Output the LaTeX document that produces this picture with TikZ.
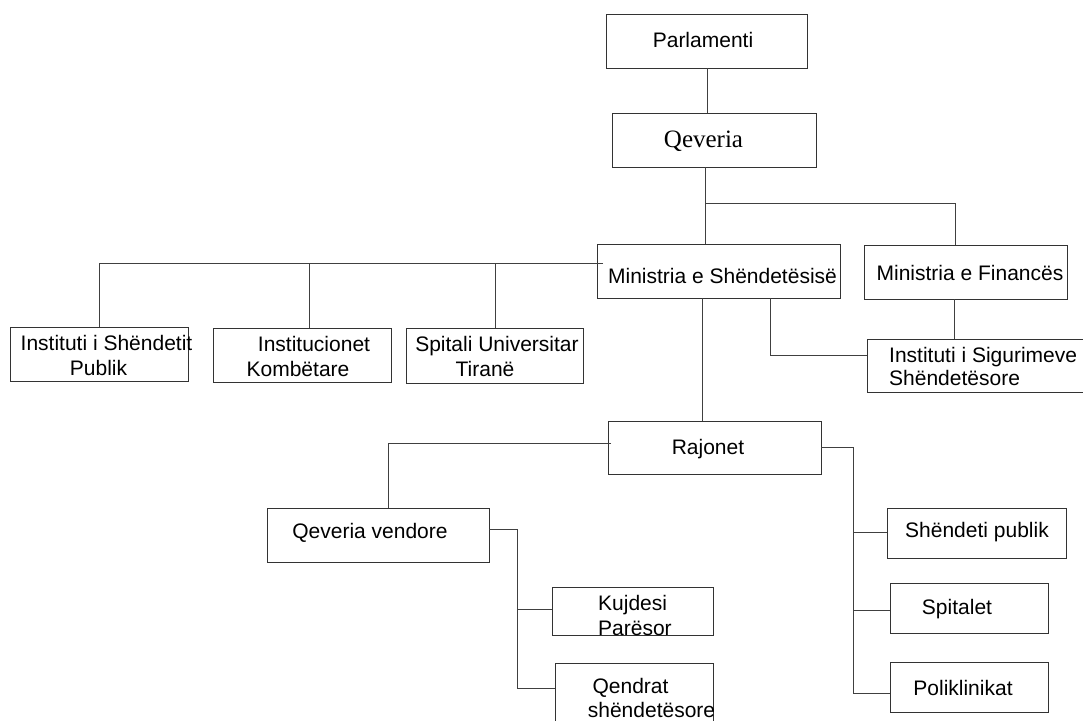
\documentclass[tikz,border=0pt]{standalone}
\usepackage{fontspec}
\setmainfont{Liberation Sans}
\newfontfamily\qserif{Liberation Serif}
\begin{document}
\begin{tikzpicture}[x=1pt,y=-1pt,
  box/.style={draw=black!80, line width=0.9pt, inner sep=0pt, fill=white},
  txt/.style={inner sep=0pt, font=\fontsize{21}{25}\selectfont, align=center},
  conn/.style={draw=black!75, line width=0.9pt}]
\useasboundingbox (0,0) rectangle (1083,720);

% boxes
\node[box, minimum width=201pt, minimum height=54pt] (parl) at (706.5,41) {};
\node[box, minimum width=204pt, minimum height=54pt] (qev) at (714,140) {};
\node[box, minimum width=243pt, minimum height=54pt] (msh) at (718.5,271) {};
\node[box, minimum width=203pt, minimum height=54pt] (mf) at (965.5,272) {};
\node[box, minimum width=223pt, minimum height=53pt] (iss) at (978.5,365.5) {};
\node[box, minimum width=178pt, minimum height=54pt] (ish) at (99,354) {};
\node[box, minimum width=178pt, minimum height=54pt] (ik) at (302,355) {};
\node[box, minimum width=177pt, minimum height=55pt] (sut) at (494.5,355.5) {};
\node[box, minimum width=213pt, minimum height=53pt] (raj) at (714.5,447.5) {};
\node[box, minimum width=222pt, minimum height=54pt] (qv) at (378,535) {};
\node[box, minimum width=161pt, minimum height=48pt] (kp) at (632.5,611) {};
\node[box, minimum width=158pt, minimum height=67pt] (qs) at (634,696.5) {};
\node[box, minimum width=179pt, minimum height=50pt] (sp) at (976.5,533) {};
\node[box, minimum width=158pt, minimum height=50pt] (spt) at (969,608) {};
\node[box, minimum width=158pt, minimum height=50pt] (pk) at (969,687) {};

% texts
\node[txt] (tparl) at (703,40) {Parlamenti};
\node[txt, font=\qserif\fontsize{25}{28}\selectfont] (tqev) at (703.5,141) {Qeveria};
\node[txt] (tmsh) at (722.5,276) {Ministria e Shëndetësisë};
\node[txt] (tmf) at (970,273) {Ministria e Financës};
\node[txt, font=\fontsize{21}{23}\selectfont, align=left, anchor=west] (tiss) at (889,366) {Instituti i Sigurimeve\\Shëndetësore};
\node[txt] (tish) at (102.5,355) {\hspace*{8pt}Instituti i Shëndetit\\Publik\hspace*{8pt}};
\node[txt] (tik) at (306,356) {\hspace*{16pt}Institucionet\\Kombëtare\hspace*{16pt}};
\node[txt] (tsut) at (491,356) {\hspace*{12pt}Spitali Universitar\\Tiranë\hspace*{12pt}};
\node[txt] (traj) at (708,449) {Rajonet};
\node[txt] (tqv) at (370,533) {Qeveria vendore};
\node[txt, align=left, anchor=west] (tkp) at (598,615.5) {Kujdesi\\Parësor};
\node[txt, font=\fontsize{21}{24}\selectfont] (tqs) at (641,697.5) {Qendrat\hspace*{21pt}\\\hspace*{21pt}shëndetësore};
\node[txt] (tsp) at (977,532) {Shëndeti publik};
\node[txt] (tspt) at (957,609) {Spitalet};
\node[txt] (tpk) at (963,688) {Poliklinikat};

% junction coordinates
\coordinate (xa) at (707,0);
\coordinate (jq) at (705,203);
\coordinate (jf) at (955,203);
\coordinate (lb) at (603,263);
\coordinate (l1) at (99,263);
\coordinate (l2) at (309,263);
\coordinate (l3) at (495,263);
\coordinate (xr) at (702,0);
\coordinate (ji) at (770,355);
\coordinate (xf) at (954,0);
\coordinate (rl) at (611,443);
\coordinate (rv) at (388,443);
\coordinate (rj) at (853,447);
\coordinate (r1) at (853,532);
\coordinate (r2) at (853,610);
\coordinate (rb) at (853,693);
\coordinate (qj) at (517,529);
\coordinate (q1) at (517,609);
\coordinate (qb) at (517,688);

% connectors
\draw[conn] (parl.south -| xa) -- (qev.north -| xa);
\draw[conn] (qev.south -| jq) -- (msh.north -| jq);
\draw[conn] (jq) -- (jf) -- (mf.north -| jf);
\draw[conn] (lb) -- (l1) -- (ish.north -| l1);
\draw[conn] (l2) -- (ik.north -| l2);
\draw[conn] (l3) -- (sut.north -| l3);
\draw[conn] (msh.south -| xr) -- (raj.north -| xr);
\draw[conn] (msh.south -| ji) -- (ji) -- (iss.west |- ji);
\draw[conn] (mf.south -| xf) -- (iss.north -| xf);
\draw[conn] (rl) -- (rv) -- (qv.north -| rv);
\draw[conn] (raj.east |- rj) -- (rj) -- (rb) -- (pk.west |- rb);
\draw[conn] (r1) -- (sp.west |- r1);
\draw[conn] (r2) -- (spt.west |- r2);
\draw[conn] (qv.east |- qj) -- (qj) -- (qb) -- (qs.west |- qb);
\draw[conn] (q1) -- (kp.west |- q1);
\end{tikzpicture}
\end{document}
